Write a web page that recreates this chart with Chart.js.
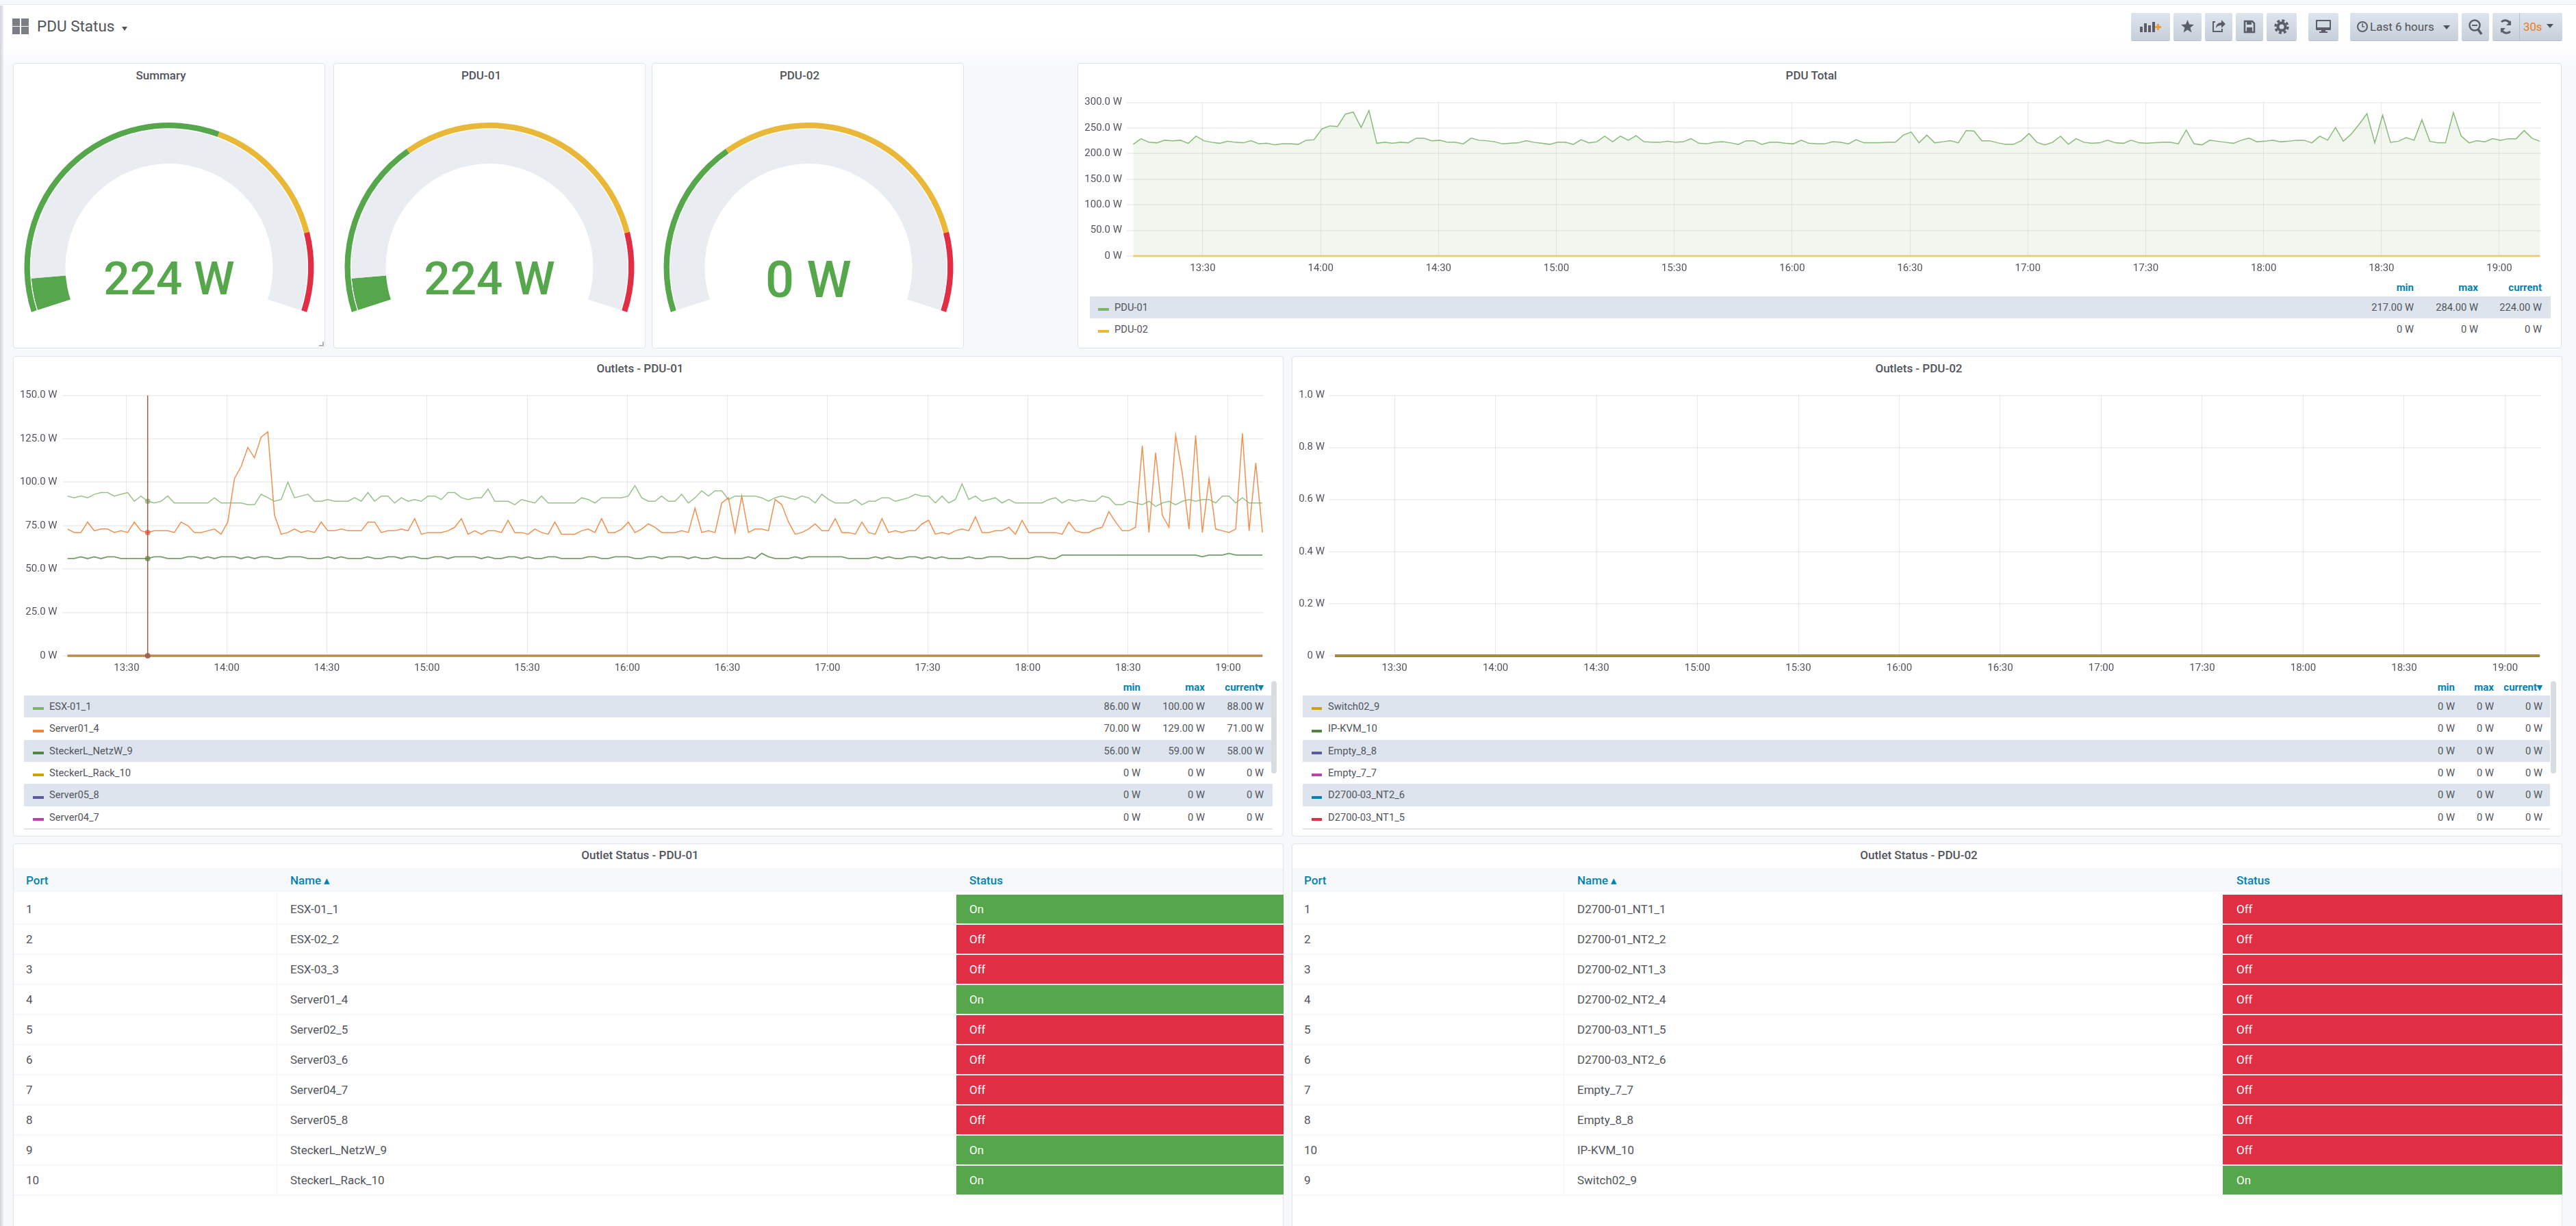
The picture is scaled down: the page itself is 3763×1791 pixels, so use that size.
<!DOCTYPE html>
<html><head><meta charset="utf-8"><title>PDU Status</title>
<script src="https://cdn.jsdelivr.net/npm/chart.js@4"></script>
<style>
html,body{margin:0;padding:0;width:3763px;height:1791px;overflow:hidden;font-family:Roboto,sans-serif;color:#52545c;background:#f7f8fa}
#bg{position:absolute;left:0;top:0;width:3763px;height:100px;background:linear-gradient(#fff 0,#fff 60%,#f7f8fa 100%)}
#topstrip{position:absolute;left:0;top:0;width:3763px;height:6px;background:#f7f8fa;border-bottom:1px solid #e3e6ea}
#leftedge{position:absolute;left:0;top:8px;width:5px;height:1783px;background:linear-gradient(90deg,#cfd4da,#eef0f3)}
.abs,.panel,.t,.btn{position:absolute}
.panel{background:#fff;border:1px solid #dde4ed;border-radius:4px;box-sizing:border-box}
.t{white-space:nowrap;line-height:1}
.title{font-weight:500;font-size:17px;text-align:center}
.row{position:absolute}
.btn{background:linear-gradient(#dde4ed,#c7d0d9);border-radius:2px;box-sizing:border-box;top:19px;height:40px;box-shadow:0 1px 0 #b6bfc9}
.btn svg{position:absolute;left:0;top:0}
canvas{position:absolute}
.hdr{color:#0083b3;font-weight:700;font-size:15px}
.caret{position:absolute;width:0;height:0;border-left:5px solid transparent;border-right:5px solid transparent;border-top:6px solid #52545c}
</style></head><body>
<div id="bg"></div><div id="topstrip"></div><div id="leftedge"></div>
<div id="root"></div>
<script>
// ---------- values ----------
const xTickMinutes=[810,840,870,900,930,960,990,1020,1050,1080,1110,1140];
const totalPdu01=[
218,229,222,221,226,225,226,220,234,225,
222,220,224,222,221,225,219,220,217,219,
219,218,226,227,248,254,253,277,281,251,
284,220,222,220,222,221,230,230,225,226,
222,222,219,230,226,225,223,219,220,221,
225,222,220,218,222,222,218,227,221,223,
234,223,234,226,235,223,222,222,224,222,
223,229,220,219,222,223,221,218,225,225,
218,222,222,220,219,226,220,219,219,223,
222,219,227,221,221,221,222,222,236,242,
221,236,221,223,225,221,245,244,225,225,
221,218,218,225,239,222,217,222,234,218,
229,222,220,221,226,221,220,226,221,220,
221,222,222,219,246,219,217,226,224,222,
220,226,230,223,224,226,223,224,226,226,
221,234,226,251,224,238,257,278,221,275,
222,224,231,226,266,224,221,221,280,234,
221,225,223,229,226,229,229,245,230,224];
const esx01=[
92,91,92,91,93,94,94,92,93,94,
89,92,89,88,89,92,88,88,88,88,
88,88,91,88,88,88,88,87,87,93,
91,89,90,100,91,92,93,89,89,90,
89,89,89,91,89,94,89,92,92,88,
91,89,90,89,92,92,90,94,94,91,
90,91,91,96,89,89,89,87,90,89,
88,92,88,88,88,88,88,91,90,88,
91,91,91,91,92,98,91,89,89,92,
89,89,93,88,91,95,92,95,95,90,
92,92,92,92,91,89,91,92,91,90,
92,91,88,93,90,88,88,88,90,87,
89,89,91,91,89,90,91,93,92,92,
88,92,88,90,99,90,92,89,90,91,
88,90,88,88,88,88,88,90,91,88,
90,89,90,89,89,92,91,87,87,89,
88,87,89,86,88,89,87,89,90,89,
90,90,88,92,92,88,91,88,88,88];
const server01=[
73,71,71,77,72,73,73,71,72,71,
77,72,71,72,72,72,71,77,75,71,
71,72,73,70,77,102,109,120,114,126,
129,81,70,71,73,71,72,71,77,72,
72,73,72,72,72,77,77,71,72,72,
73,72,79,70,71,71,71,72,74,79,
70,72,70,72,72,71,78,71,71,70,
73,71,70,77,70,70,70,72,73,71,
79,71,71,73,77,71,73,76,74,71,
71,71,72,71,85,71,72,71,88,91,
71,92,71,73,73,72,90,87,77,70,
71,73,76,72,72,79,71,71,70,77,
71,70,79,71,72,71,72,72,76,78,
70,71,70,72,73,72,80,71,71,72,
72,74,70,78,71,71,71,71,71,70,
77,72,71,71,73,74,83,77,72,72,
74,121,71,117,81,74,127,105,73,127,
71,102,73,72,71,73,128,72,111,71];
const netzW=[
56,56,57,56,57,56,57,57,56,56,
56,56,56,57,57,56,56,56,57,57,
56,57,56,57,57,57,56,57,56,57,
57,56,56,57,57,57,56,56,56,57,
56,57,56,56,56,57,56,56,57,57,
56,57,57,56,56,57,57,56,57,57,
57,57,56,57,56,56,57,57,56,57,
56,56,57,57,56,56,56,56,57,57,
56,56,57,57,57,56,56,57,57,56,
57,57,57,56,57,56,56,57,56,56,
56,56,57,56,59,57,56,56,56,57,
56,57,57,57,57,57,57,56,56,56,
56,57,56,57,56,56,57,57,56,57,
56,57,56,56,56,57,56,56,57,57,
57,56,56,56,56,57,57,56,56,58,
58,58,58,58,58,58,58,58,58,58,
58,58,58,58,58,58,58,58,58,58,
57,58,58,58,59,58,58,58,58,58];
const zeroWatts=[0,0];                 // every idle outlet stays at 0 W for the whole range
const crosshairMinutes=[816.3,816.3];
const crosshairWatts=[0,150];
const crosshairDotWatts=[89,71,56,0];

const gaugeNames=['Summary','PDU-01','PDU-02'];
const gaugeValues=[224,224,0];
const gaugeLabels=['224 W','224 W','0 W'];
const gaugeMax=3600;
const gaugeThresholdLow=[2140,1218,1218];
const gaugeThresholdHigh=[3064,3064,3064];

const totalLegendNames=['PDU-01','PDU-02'];
const totalLegendMin=['217.00 W','0 W'];
const totalLegendMax=['284.00 W','0 W'];
const totalLegendCur=['224.00 W','0 W'];

const outlets1Names=['ESX-01_1','Server01_4','SteckerL_NetzW_9','SteckerL_Rack_10','Server05_8','Server04_7'];
const outlets1Min=['86.00 W','70.00 W','56.00 W','0 W','0 W','0 W'];
const outlets1Max=['100.00 W','129.00 W','59.00 W','0 W','0 W','0 W'];
const outlets1Cur=['88.00 W','71.00 W','58.00 W','0 W','0 W','0 W'];
const outlets2Names=['Switch02_9','IP-KVM_10','Empty_8_8','Empty_7_7','D2700-03_NT2_6','D2700-03_NT1_5'];
const outlets2Val=['0 W','0 W','0 W','0 W','0 W','0 W'];

const status1Ports=['1','2','3','4','5','6','7','8','9','10'];
const status1Names=['ESX-01_1','ESX-02_2','ESX-03_3','Server01_4','Server02_5','Server03_6','Server04_7','Server05_8','SteckerL_NetzW_9','SteckerL_Rack_10'];
const status1State=['On','Off','Off','On','Off','Off','Off','Off','On','On'];
const status2Ports=['1','2','3','4','5','6','7','8','10','9'];
const status2Names=['D2700-01_NT1_1','D2700-01_NT2_2','D2700-02_NT1_3','D2700-02_NT2_4','D2700-03_NT1_5','D2700-03_NT2_6','Empty_7_7','Empty_8_8','IP-KVM_10','Switch02_9'];
const status2State=['Off','Off','Off','Off','Off','Off','Off','Off','Off','On'];

// ---------- styles ----------
const GREEN='#56a64b',YELLOW='#eab839',RED='#e02f44',TRACK='#e9edf2';
const palette1=['#7eb26d','#ef843c','#508642','#cca300','#5e5a9e','#ba43a9'];
const palette2=['#cca300','#508642','#5e5a9e','#ba43a9','#0a7fb5','#e02f44'];
const firstSample=792.3, sampleStep=2;
const sampleTimes=totalPdu01.map((_,i)=>firstSample+i*sampleStep);
const rangeEnds=[firstSample,firstSample+179*sampleStep];
const pts=a=>a.map((y,i)=>({x:sampleTimes[i],y}));
const flat=()=>zeroWatts.map((y,i)=>({x:rangeEnds[i],y}));
const ZERO_W=2.8;

Chart.defaults.font.family='Roboto';
Chart.defaults.font.size=15;
Chart.defaults.color='#52545c';
Chart.defaults.animation=false;
Chart.defaults.responsive=false;
Chart.defaults.plugins.legend.display=false;
Chart.defaults.plugins.tooltip.enabled=false;

const root=document.getElementById('root');
function el(cls,css,html){const d=document.createElement('div');d.className=cls;Object.assign(d.style,css);if(html!==undefined)d.innerHTML=html;root.appendChild(d);return d;}
function px(v){return v+'px';}
function panel(x,y,x2,y2,title,ty){
  el('panel',{left:px(x),top:px(y),width:px(x2-x),height:px(y2-y)});
  el('t title',{left:px(x),width:px(x2-x-24),top:px(ty-9),height:'18px'},title);
}
function text(s,x,y,o={}){
  const d=el('t '+(o.cls||''),{top:px(y-(o.size||15)/2),fontSize:px(o.size||15),color:o.color||'#52545c',fontWeight:o.weight||400});
  if(o.right!==undefined){d.style.right=px(3763-o.right);}else{d.style.left=px(x);}
  d.textContent=s;return d;
}
function canvas(x,y,w,h){const c=document.createElement('canvas');c.width=w;c.height=h;c.style.left=px(x);c.style.top=px(y);c.style.width=px(w);c.style.height=px(h);root.appendChild(c);return c;}

// ---------- header ----------
el('abs',{left:'18px',top:'27px',width:'24px',height:'23px',background:'linear-gradient(#7b7e85,#7b7e85) 0 0/11px 11px no-repeat,linear-gradient(#7b7e85,#7b7e85) 13px 0/11px 11px no-repeat,linear-gradient(#7b7e85,#7b7e85) 0 12px/11px 11px no-repeat,linear-gradient(#7b7e85,#7b7e85) 13px 12px/11px 11px no-repeat'});
text('PDU Status',54,38,{size:22.5});
el('caret',{left:'178px',top:'39px',borderLeftWidth:'4px',borderRightWidth:'4px'});

const g='#5b5e66';
const buttons=[
 [3113,3170,`<rect x="13" y="20" width="4" height="8" fill="${g}"/><rect x="19" y="15" width="4" height="13" fill="${g}"/><rect x="25" y="18" width="4" height="10" fill="${g}"/><rect x="31" y="13" width="4" height="15" fill="${g}"/><path d="M38 16h3v3h3v3h-3v3h-3v-3h-3v-3h3z" fill="#f09a3e"/>`],
 [3175,3216,`<polygon points="20.5,10 23,16.5 30,17 24.5,21.5 26.5,28.5 20.5,24.5 14.5,28.5 16.5,21.5 11,17 18,16.5" fill="${g}"/>`],
 [3221,3261,`<path d="M24 14v-4l6 6-6 6v-4c-4 0-6 1-8 4 0-5 3-8 8-8z" fill="${g}"/><path d="M15 13h-3v14h13v-4" fill="none" stroke="${g}" stroke-width="2"/>`],
 [3266,3306,`<path d="M13 12h11l3 3v13H13z" fill="none" stroke="${g}" stroke-width="2.5"/><rect x="16" y="12" width="7" height="5" fill="${g}"/><rect x="16" y="21" width="8" height="7" fill="${g}"/>`],
 [3311,3355,`<circle cx="22" cy="20" r="5.5" fill="none" stroke="${g}" stroke-width="4"/><circle cx="22" cy="20" r="9" fill="none" stroke="${g}" stroke-width="3.5" stroke-dasharray="4 3.07"/>`],
 [3372,3416,`<rect x="11" y="10" width="22" height="15" rx="1" fill="${g}"/><rect x="13" y="12" width="18" height="9" fill="#d3dae2"/><rect x="19" y="25" width="6" height="2" fill="${g}"/><rect x="16" y="27" width="12" height="2" fill="${g}"/>`],
 [3596,3636,`<circle cx="19" cy="18" r="7.5" fill="none" stroke="${g}" stroke-width="2.5"/><path d="M24 24l5 7" stroke="${g}" stroke-width="3.5"/><path d="M15 18h8" stroke="${g}" stroke-width="2"/>`]
];
buttons.forEach(b=>el('btn',{left:px(b[0]),width:px(b[1]-b[0])},`<svg width="${b[1]-b[0]}" height="40">${b[2]}</svg>`));
el('btn',{left:'3433px',width:'158px'},`<svg width="30" height="40"><circle cx="18" cy="20" r="7" fill="none" stroke="${g}" stroke-width="2"/><path d="M18 15v5h3" fill="none" stroke="${g}" stroke-width="1.5"/></svg>`);
text('Last 6 hours',3462,39,{size:17});
el('caret',{left:'3569px',top:'37px'});
el('btn',{left:'3641px',width:'102px'},`<svg width="40" height="40"><path d="M26 16a8 8 0 0 0-13-3M13 24a8 8 0 0 0 13 3" fill="none" stroke="${g}" stroke-width="3"/><path d="M27 11v7h-7zM12 29v-7h7z" fill="${g}"/><rect x="39" y="0" width="1" height="40" fill="#b6bfc9"/></svg>`);
text('30s',3686,39,{size:16.8,color:'#eb7b18'});
el('caret',{left:'3720px',top:'35px'});

// ---------- gauges ----------
const gaugeBoxes=[[19,475,247],[487,943,715],[952,1408,1180.8]];
gaugeNames.forEach((n,i)=>{
  const [x1,x2,cx]=gaugeBoxes[i];
  panel(x1,92,x2,509,n,111);
  new Chart(canvas(cx-228,126,456,383),{type:'doughnut',
    data:{labels:['low','mid','high'],datasets:[
      {data:[gaugeThresholdLow[i],gaugeThresholdHigh[i]-gaugeThresholdLow[i],gaugeMax-gaugeThresholdHigh[i]],backgroundColor:[GREEN,YELLOW,RED],weight:8.3,borderWidth:0},
      {data:[gaugeMax],backgroundColor:['#ffffff'],weight:1.2,borderWidth:0},
      {data:[gaugeValues[i],gaugeMax-gaugeValues[i]],backgroundColor:[GREEN,TRACK],weight:50.5,borderWidth:0}
    ]},
    options:{rotation:-108,circumference:216,radius:211.5,cutout:'71.63%'}});
  const d=el('t',{left:px(cx-150),width:'300px',textAlign:'center',top:px(i==2?372:373),fontSize:px(i==2?74:67.5),fontWeight:500,color:GREEN});
  d.textContent=gaugeLabels[i];
});
el('abs',{left:'466px',top:'499px',width:'5px',height:'5px',borderRight:'2px solid #aeb4bb',borderBottom:'2px solid #aeb4bb'});

// ---------- line charts ----------
function timeAxis(min,max,h){return{type:'linear',min,max,
  afterBuildTicks(s){s.ticks=xTickMinutes.map(value=>({value}));},
  afterFit(s){s.height=h;s.paddingLeft=0;s.paddingRight=0;},
  ticks:{autoSkip:false,maxRotation:0,minRotation:0,padding:9,
    callback:v=>String(Math.floor(v/60)).padStart(2,'0')+':'+String(v%60).padStart(2,'0')},
  grid:{color:'rgba(0,0,0,0.085)',lineWidth:1,drawTicks:false},border:{display:false}};}
function wattAxis(max,step,w,fmt){return{min:0,max,
  afterFit(s){s.width=w;s.paddingTop=0;s.paddingBottom=0;},
  ticks:{stepSize:step,padding:7,callback:v=>Math.abs(v)<1e-9?'0 W':fmt(v)+' W'},
  grid:{color:'rgba(0,0,0,0.055)',lineWidth:2,drawTicks:false},border:{display:false}};}
const lineOpts=(x,y,right,top)=>({scales:{x,y},layout:{padding:{top,right,left:0,bottom:0}},
  parsing:false,normalized:true,elements:{point:{radius:0},line:{tension:0}}});
const ln=(data,color,w,extra={})=>Object.assign({data,borderColor:color,borderWidth:w,pointRadius:0,fill:false,clip:3},extra);

// PDU Total
panel(1574,92,3742,509,'PDU Total',111);
new Chart(canvas(1574,130,2168,280),{type:'line',data:{datasets:[
  ln(flat(),'rgba(234,184,57,0.65)',ZERO_W),
  ln(pts(totalPdu01),'rgba(126,178,109,0.9)',1.5,{fill:'origin',backgroundColor:'rgba(126,178,109,0.11)'})
]},options:lineOpts(timeAxis(790.66,1150.63,36),wattAxis(300,50,72,v=>v.toFixed(1)),30,19.5)});

// Outlets PDU-01
panel(19,520,1875,1222,'Outlets - PDU-01',539);
new Chart(canvas(19,560,1856,430),{type:'line',data:{datasets:[
  {data:crosshairMinutes.map((x,i)=>({x,y:crosshairWatts[i]})),borderColor:'rgb(165,95,70)',borderWidth:1.5,pointRadius:0},
  {data:crosshairDotWatts.map(y=>({x:crosshairMinutes[0],y})),showLine:false,pointRadius:4,borderWidth:0,clip:6,
   pointBackgroundColor:['rgba(126,178,109,0.7)','rgba(224,80,60,0.7)','rgba(80,134,66,0.7)','rgba(150,100,70,0.9)']},
  ln(pts(esx01),'rgba(126,178,109,0.8)',1.5),
  ln(pts(server01),'rgba(239,132,60,0.9)',1.5),
  ln(pts(netzW),'rgba(80,134,66,0.8)',1.8),
  ln(flat(),'rgba(204,163,0,0.55)',ZERO_W),
  ln(flat(),'rgba(186,67,169,0.55)',ZERO_W),
  ln(flat(),'#a89a80',ZERO_W)
]},options:lineOpts(timeAxis(790.64,1150.6,32),wattAxis(150,25,71.6,v=>v.toFixed(1)),29.4,17.5)});

// Outlets PDU-02
panel(1887,520,3743,1222,'Outlets - PDU-02',539);
new Chart(canvas(1887,560,1856,430),{type:'line',data:{datasets:[
  ln(flat(),'rgba(204,163,0,0.75)',ZERO_W),
  ln(flat(),palette2[2],ZERO_W),ln(flat(),palette2[1],ZERO_W),ln(flat(),palette2[3],ZERO_W),ln(flat(),palette2[4],ZERO_W),ln(flat(),palette2[5],ZERO_W)
]},options:lineOpts(timeAxis(790.66,1150.7,32),wattAxis(1,0.2,55,v=>v.toFixed(1)),31,17.5)});

// ---------- legends ----------
function legend(o){
  o.headers.forEach((h,k)=>text(h,0,o.headY,{right:o.rights[k],cls:'hdr',color:'#0083b3',weight:700}));
  o.names.forEach((n,r)=>{
    const top=o.tops[r],bot=o.tops[r+1];
    if(r%2==0) el('row',{left:px(o.x1),top:px(top),width:px(o.x2-o.x1),height:px(bot-top),background:'#dde4ed'});
    el('row',{left:px(o.swX),top:px((top+bot)/2+1),width:px(o.swW),height:'4px',background:o.colors[r]});
    text(n,o.txX,(top+bot)/2,{size:14.7});
    o.vals.forEach((v,k)=>text(v[r],0,(top+bot)/2,{right:o.rights[k],size:14.7}));
  });
  if(o.rule) el('row',{left:px(o.x1),top:px(o.tops[o.names.length]),width:px(o.x2-o.x1),height:'2px',background:'#dde4ed'});
  if(o.scroll){el('row',{left:px(o.scroll),top:'995px',width:'8px',height:'135px',borderRadius:'4px',background:'#d8dde2'});}
}
legend({headers:['min','max','current'],headY:420,rights:[3526,3620,3713],names:totalLegendNames,tops:[433,465,497],x1:1592,x2:3726,swX:1604,swW:16,txX:1628,colors:['#7eb26d','#eab839'],vals:[totalLegendMin,totalLegendMax,totalLegendCur]});
const rowsTop=[1016,1048,1081,1113,1145,1178,1210];
legend({headers:['min','max','current▾'],headY:1004,rights:[1666,1760,1846],names:outlets1Names,tops:rowsTop,x1:35,x2:1859,swX:48,swW:16,txX:72,colors:palette1,vals:[outlets1Min,outlets1Max,outlets1Cur],rule:true,scroll:1857});
legend({headers:['min','max','current▾'],headY:1004,rights:[3586,3643,3714],names:outlets2Names,tops:rowsTop,x1:1903,x2:3725,swX:1916,swW:15,txX:1940,colors:palette2,vals:[outlets2Val,outlets2Val,outlets2Val],rule:true,scroll:3726});

// ---------- tables ----------
function table(o){
  panel(o.x1,1232,o.x2,1810,o.title,1250);
  el('row',{left:px(o.x1+1),top:'1268px',width:px(o.x2-o.x1-2),height:'35px',background:'#f7f8fa'});
  const hs={size:17,color:'#0083b3',weight:500};
  text('Port',o.portX,1286,hs);text('Name ▴',o.nameX,1286,hs);text('Status',o.statusHX,1286,hs);
  o.names.forEach((n,r)=>{
    const top=1307+r*44.05;
    el('row',{left:px(o.x1+1),top:px(top+42),width:px(o.statusX-o.x1-1),height:'2px',background:'#f7f8fa'});
    el('row',{left:px(o.statusX),top:px(top),width:px(o.x2-o.statusX),height:'42px',background:o.state[r]=='On'?GREEN:RED});
    text(o.ports[r],o.portX,top+21,{size:17});
    text(n,o.nameX,top+21,{size:17});
    text(o.state[r],o.statusHX,top+21,{size:17,color:'#fff'});
  });
  el('row',{left:px(o.nameX-20),top:'1305px',width:'1px',height:'442px',background:'#f3f4f6'});
}
table({title:'Outlet Status - PDU-01',x1:19,x2:1875,portX:38,nameX:424,statusHX:1416,statusX:1397,ports:status1Ports,names:status1Names,state:status1State});
table({title:'Outlet Status - PDU-02',x1:1887,x2:3743,portX:1905,nameX:2304,statusHX:3267,statusX:3247,ports:status2Ports,names:status2Names,state:status2State});
</script>
</body></html>
